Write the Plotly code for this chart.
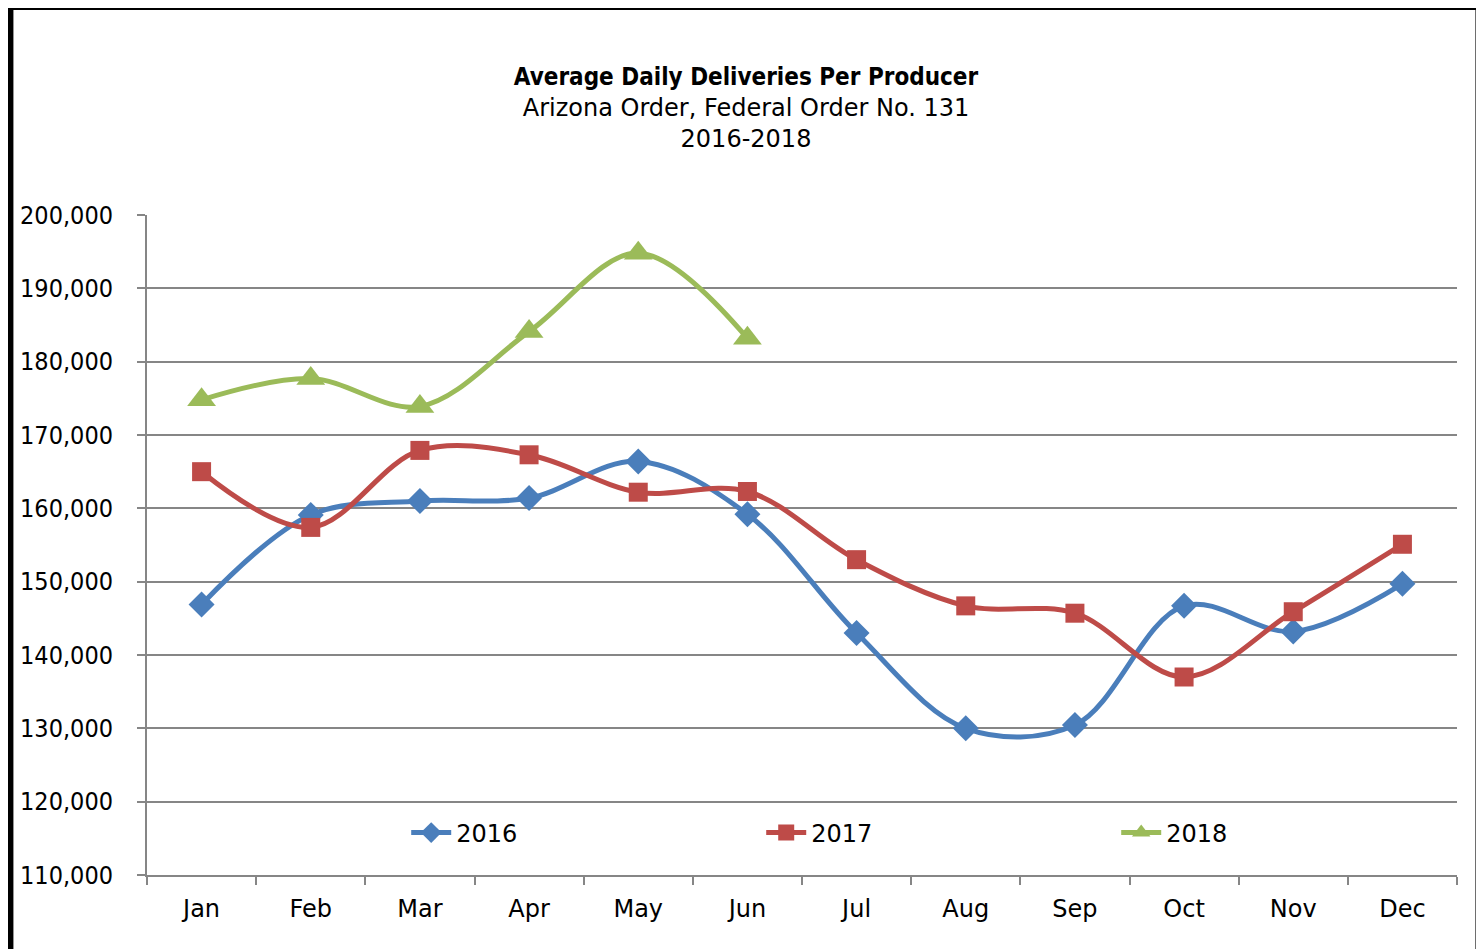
import plotly.graph_objects as go

months = ["Jan", "Feb", "Mar", "Apr", "May", "Jun", "Jul", "Aug", "Sep", "Oct", "Nov", "Dec"]
y2016 = [146900, 159100, 161000, 161400, 166400, 159200, 143000, 130000, 130450, 146700, 143200, 149700]
y2017 = [165000, 157400, 167900, 167300, 162200, 162300, 153000, 146700, 145700, 137000, 145900, 155100]
y2018 = [174800, 177700, 173900, 184100, 194800, 183200]

cond = "DejaVu Sans Condensed, DejaVu Sans, sans-serif"
wide = "DejaVu Sans, sans-serif"

series = [
    ("2016", y2016, "#4A7EBB", "diamond", 20),
    ("2017", y2017, "#BE4B48", "square", 19),
    ("2018", y2018, "#9BBB59", "triangle-up", 25),
]

fig = go.Figure()
for name, vals, color, symbol, msize in series:
    fig.add_trace(go.Scatter(
        x=months[:len(vals)], y=vals, name=name,
        mode="lines+markers",
        line=dict(color=color, width=5, shape="spline", smoothing=1),
        marker=dict(symbol=symbol, size=msize, color=color, line=dict(width=0)),
    ))

# page body has an 8px margin, so the figure is drawn 8px smaller
W, H = 1476, 941
off = 8
ml, mr, mt, mb = 143 - off, 27, 215 - off, 74
pw, ph = W - ml - mr, H - mt - mb

def px_x(x):
    return (x - off - ml) / pw

def px_y(y):
    return (H - mb - (y - off)) / ph

fig.update_layout(
    width=W, height=H,
    margin=dict(l=ml, r=mr, t=mt, b=mb),
    paper_bgcolor="white", plot_bgcolor="white",
    font=dict(family=cond, size=24, color="black"),
    title=dict(
        text="<b>Average Daily Deliveries Per Producer</b><br>"
             "<span style='font-family:DejaVu Sans'>Arizona Order, Federal Order No. 131</span><br>"
             "<span style='font-family:DejaVu Sans'>2016-2018</span>",
        x=0.5, xanchor="center", xref="container",
        y=1 - (85 - off) / H, yanchor="top",
        font=dict(size=24, family=cond),
    ),
    legend=dict(
        orientation="h", x=px_x(403), y=px_y(833), xanchor="left", yanchor="middle",
        entrywidth=300, entrywidthmode="pixels",
        bgcolor="rgba(0,0,0,0)", font=dict(size=24, family=wide),
        tracegroupgap=0, itemwidth=40,
    ),
    xaxis=dict(
        type="category", range=[-0.5, 11.5],
        showgrid=False, showline=True, linecolor="#868686", linewidth=2,
        ticks="outside", tickson="boundaries", ticklen=8, tickcolor="#868686", tickwidth=2,
        ticklabelstandoff=11, zeroline=False, tickfont=dict(size=24, family=wide),
    ),
    yaxis=dict(
        range=[110000, 200000], dtick=10000, tick0=110000, tickformat=",",
        showgrid=True, gridcolor="#868686", gridwidth=2,
        showline=True, linecolor="#868686", linewidth=2,
        ticks="outside", ticklen=8, tickcolor="#868686", tickwidth=2,
        ticklabelstandoff=19, zeroline=False, tickfont=dict(size=25, family=cond),
    ),
    shapes=[dict(
        type="rect", xref="paper", yref="paper",
        x0=px_x(6), x1=px_x(1478.5), y0=px_y(975), y1=px_y(7),
        line=dict(color="black", width=6), fillcolor="rgba(0,0,0,0)", layer="above",
    )],
)

fig.write_html("out.html")
